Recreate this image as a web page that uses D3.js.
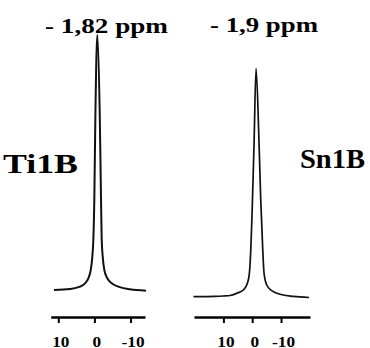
<!DOCTYPE html>
<html>
<head>
<meta charset="utf-8">
<script src="https://cdn.jsdelivr.net/npm/d3@7"></script>
<style>
  html, body { margin: 0; padding: 0; background: #fff; }
  svg { display: block; }
  svg text { font-family: "Liberation Serif", "Times New Roman", Times, serif !important; font-weight: bold !important; fill: #000; }
</style>
</head>
<body>
<svg id="chart" width="370" height="348"></svg>
<script>
// ---- data ----
const sampleNames = ["Ti1B", "Sn1B"];
const peakLabels = ["- 1,82 ppm", "- 1,9 ppm"];
const tickValues = [10, 0, -10];

// Ti1B spectrum: chemical shift (ppm) and relative intensity (%)
const tiPpm = [11.19, 6.76, 3.99, 2.60, 1.69, 1.02, 0.58, 0.30, 0.03, -0.25, -0.80, -1.50, -1.83, -2.02, -2.30, -2.74, -3.57, -4.79, -6.62, -9.86, -14.29];
const tiIntensity = [0.39, 0.78, 1.68, 3.01, 4.96, 8.20, 13.4, 19.9, 35.5, 66.8, 100, 66.8, 35.5, 19.9, 13.4, 8.20, 4.96, 3.01, 1.68, 0.66, 0.12];

// Sn1B spectrum
const snPpm = [20.4, 12.88, 10.0, 7.68, 5.36, 3.07, 1.68, 0.99, 0.50, 0.05, -0.64, -1.33, -2.37, -2.96, -3.66, -4.11, -5.04, -6.78, -9.65, -14.26, -19.71];
const snIntensity = [0.35, 0.5, 0.65, 0.87, 1.83, 3.27, 6.19, 10.5, 20.7, 36.5, 67.3, 100, 67.3, 42.5, 20.7, 10.5, 5.45, 2.96, 1.39, 0.45, 0.0];

// ---- layout ----
const svg = d3.select("#chart");
const axisY = 317;

const panels = [
  { name: sampleNames[0], label: peakLabels[0], ppm: tiPpm, inten: tiIntensity,
    x: d3.scaleLinear().domain([12.1, -14.0]).range([50.7, 145]),
    y: d3.scaleLinear().domain([0, 100]).range([291, 35]),
    stroke: 2,
    title: { x: 45, y: 32.5, w: 123 },
    nameBox: { x: 3, y: 173, w: 75 } },
  { name: sampleNames[1], label: peakLabels[1], ppm: snPpm, inten: snIntensity,
    x: d3.scaleLinear().domain([20.2, -20.05]).range([194, 310]),
    y: d3.scaleLinear().domain([0, 100]).range([297.5, 68.3]),
    stroke: 1.7,
    title: { x: 210, y: 31.7, w: 108 },
    nameBox: { x: 300, y: 168.3, w: 65 } }
];

panels.forEach(p => {
  const pts = p.ppm.map((v, i) => [v, p.inten[i]]);
  const line = d3.line()
    .x(d => p.x(d[0]))
    .y(d => p.y(d[1]))
    .curve(d3.curveMonotoneX);

  svg.append("path")
    .datum(pts)
    .attr("d", line)
    .attr("fill", "none")
    .attr("stroke", "#111")
    .attr("stroke-width", p.stroke)
    .attr("stroke-linejoin", "round");

  const axis = d3.axisBottom(p.x)
    .tickValues(tickValues)
    .tickSize(6)
    .tickSizeOuter(0)
    .tickFormat(d => (d < 0 ? "-" : "") + Math.abs(d));

  const g = svg.append("g")
    .attr("transform", `translate(0,${axisY})`)
    .call(axis);
  g.attr("font-family", "Liberation Serif").attr("font-size", 15).attr("font-weight", "bold");
  g.select(".domain").attr("stroke", "#000").attr("stroke-width", 2.5);
  g.selectAll(".tick line").attr("stroke", "#000").attr("stroke-width", 2);
  g.selectAll(".tick text")
    .attr("y", 29.5).attr("dy", 0).attr("dx", 2)
    .attr("font-size", 15)
    .attr("fill", "#000")
    .each(function() {
      const w = this.getComputedTextLength();
      d3.select(this).attr("textLength", w * 1.15).attr("lengthAdjust", "spacingAndGlyphs");
    });

  svg.append("text")
    .attr("x", p.title.x).attr("y", p.title.y)
    .attr("font-size", 22)
    .attr("textLength", p.title.w).attr("lengthAdjust", "spacingAndGlyphs")
    .text(p.label);

  svg.append("text")
    .attr("x", p.nameBox.x).attr("y", p.nameBox.y)
    .attr("font-size", 28)
    .attr("textLength", p.nameBox.w).attr("lengthAdjust", "spacingAndGlyphs")
    .text(p.name);
});
</script>
</body>
</html>
